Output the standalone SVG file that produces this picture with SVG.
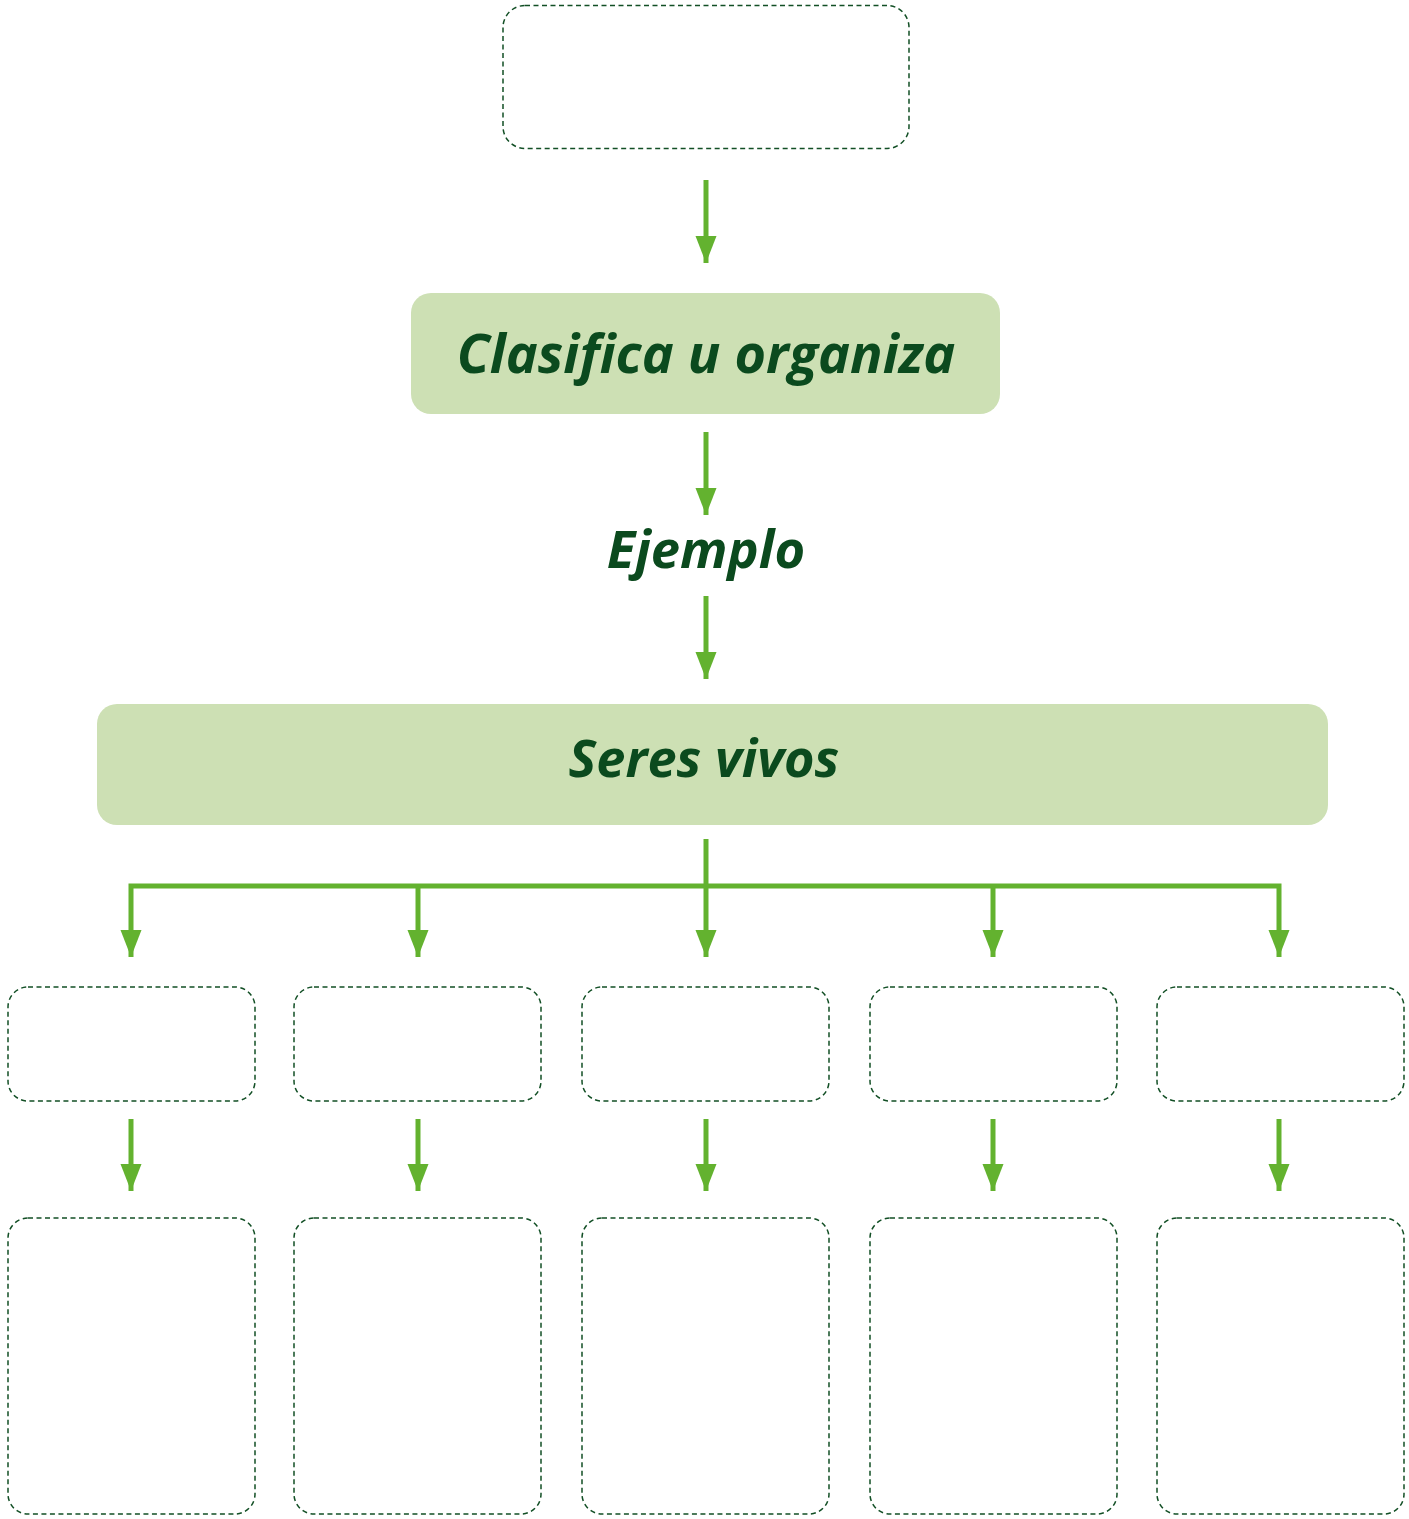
<svg xmlns="http://www.w3.org/2000/svg" width="1409" height="1519" viewBox="0 0 1409 1519">
<style>
.dash{fill:#ffffff;stroke:#124f25;stroke-width:1.5;stroke-dasharray:5 3.5}
.solid{fill:#cde0b4;stroke:none}
.lbl{font-family:"Open Sans","Noto Sans",sans-serif;font-weight:700;font-style:italic;fill:#0b4a1e;text-anchor:middle}
.con{fill:none;stroke:#63b22f;stroke-width:5;stroke-linejoin:miter}
</style>
<defs>
<marker id="ah" markerUnits="userSpaceOnUse" markerWidth="28" markerHeight="22" refX="27" refY="10.5" orient="auto-start-reverse" viewBox="0 0 28 22">
<path d="M0,0 L27,10.5 L0,21 Z" fill="#63b22f"/>
</marker>
</defs>
<rect width="1409" height="1519" fill="#ffffff"/>
<g id="n-top"><rect class="dash" x="503" y="5.5" width="406" height="143" rx="22"/></g>
<g id="n-clasifica"><rect class="solid" x="411" y="293" width="589" height="121" rx="20"/><text class="lbl" x="706" y="373" font-size="54">Clasifica u organiza</text></g>
<g id="n-ejemplo"><text class="lbl" x="706" y="568" font-size="52.5">Ejemplo</text></g>
<g id="n-seres"><rect class="solid" x="97" y="704" width="1231" height="121" rx="20"/><text class="lbl" x="704" y="777" font-size="52.3">Seres vivos</text></g>
<g id="n-m1"><rect class="dash" x="8" y="987" width="247" height="114" rx="20"/></g>
<g id="n-m2"><rect class="dash" x="294" y="987" width="247" height="114" rx="20"/></g>
<g id="n-m3"><rect class="dash" x="582" y="987" width="247" height="114" rx="20"/></g>
<g id="n-m4"><rect class="dash" x="870" y="987" width="247" height="114" rx="20"/></g>
<g id="n-m5"><rect class="dash" x="1157" y="987" width="247" height="114" rx="20" stroke-dasharray="4 2.5"/></g>
<g id="n-b1"><rect class="dash" x="8" y="1218" width="247" height="296" rx="20"/></g>
<g id="n-b2"><rect class="dash" x="294" y="1218" width="247" height="296" rx="20"/></g>
<g id="n-b3"><rect class="dash" x="582" y="1218" width="247" height="296" rx="20"/></g>
<g id="n-b4"><rect class="dash" x="870" y="1218" width="247" height="296" rx="20"/></g>
<g id="n-b5"><rect class="dash" x="1157" y="1218" width="247" height="296" rx="20"/></g>
<g id="connectors">
<path class="con" d="M706,180 V263" marker-end="url(#ah)"/>
<path class="con" d="M706,432 V515" marker-end="url(#ah)"/>
<path class="con" d="M706,596 V679" marker-end="url(#ah)"/>
<path class="con" d="M706,839 V957" marker-end="url(#ah)"/>
<path class="con" d="M131,957 V886 H1279 V957" marker-start="url(#ah)" marker-end="url(#ah)"/>
<path class="con" d="M418,886 V957" marker-end="url(#ah)"/>
<path class="con" d="M993,886 V957" marker-end="url(#ah)"/>
<path class="con" d="M131,1119 V1191" marker-end="url(#ah)"/>
<path class="con" d="M418,1119 V1191" marker-end="url(#ah)"/>
<path class="con" d="M706,1119 V1191" marker-end="url(#ah)"/>
<path class="con" d="M993,1119 V1191" marker-end="url(#ah)"/>
<path class="con" d="M1279,1119 V1191" marker-end="url(#ah)"/>
</g>
</svg>
